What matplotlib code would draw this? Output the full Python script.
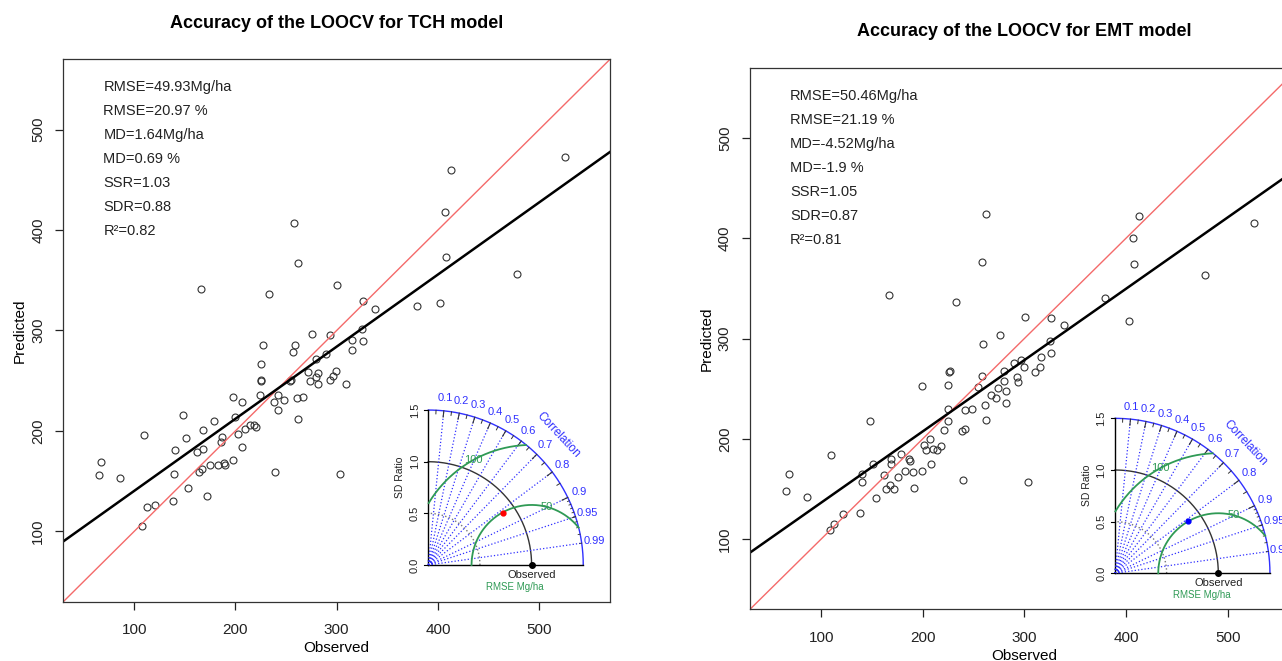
import numpy as np
import matplotlib.pyplot as plt

plt.rcParams['font.family'] = ['Liberation Sans', 'DejaVu Sans']

W, H = 1282, 661

# --- data ---
tch_obs = [65, 67, 86, 110, 108, 113, 121, 138, 139, 140, 148, 151, 153, 162, 164,
           167, 166, 168, 168, 172, 175, 179, 183, 186, 187, 189, 190, 198, 198, 200,
           203, 207, 207, 209, 214, 218, 220, 224, 225, 225, 225, 227, 233, 238, 239,
           242, 242, 248, 254, 255, 257, 259, 258, 262, 261, 262, 267, 272, 274, 276,
           280, 280, 282, 282, 289, 293, 293, 296, 299, 300, 303, 309, 315, 315, 325,
           326, 326, 338, 379, 402, 407, 408, 413, 478, 526]
tch_pred = [156, 169, 153, 196, 105, 124, 126, 130, 157, 181, 216, 193, 143, 179, 159,
            162, 341, 201, 182, 135, 166, 210, 166, 189, 194, 168, 166, 171, 234, 214,
            197, 229, 184, 202, 206, 206, 204, 236, 250, 251, 267, 286, 336, 229, 159,
            221, 236, 231, 250, 251, 279, 286, 407, 367, 233, 212, 234, 259, 250, 297,
            272, 254, 258, 247, 277, 296, 251, 255, 260, 345, 157, 247, 291, 281, 301,
            290, 329, 321, 324, 327, 418, 373, 460, 356, 473]

emt_obs = [65, 68, 86, 110, 109, 113, 122, 138, 140, 140, 148, 151, 154, 162, 164,
           167, 168, 169, 169, 172, 176, 179, 183, 186, 187, 190, 191, 199, 199, 201,
           203, 207, 208, 210, 214, 218, 221, 225, 225, 225, 226, 227, 233, 239, 240,
           242, 242, 248, 254, 258, 258, 259, 261, 262, 262, 267, 272, 274, 276, 280,
           280, 282, 282, 290, 293, 294, 297, 300, 301, 304, 310, 315, 316, 325, 326,
           326, 339, 379, 403, 407, 408, 413, 478, 526]
emt_pred = [148, 165, 142, 184, 109, 115, 125, 126, 157, 165, 218, 175, 141, 164, 150,
            343, 154, 180, 175, 150, 162, 185, 168, 180, 178, 167, 151, 253, 168, 194,
            189, 200, 175, 190, 189, 193, 209, 218, 230, 254, 267, 268, 336, 208, 159,
            210, 229, 230, 252, 263, 376, 295, 234, 219, 424, 244, 241, 251, 303, 268,
            258, 248, 236, 276, 262, 257, 279, 272, 321, 157, 267, 272, 282, 298, 320,
            286, 313, 340, 317, 400, 374, 422, 363, 415]

# fitted line (intercept, slope)
tch_fit = (68.5, 0.718)
emt_fit = (65.2, 0.711)

tch_stats = ['RMSE=49.93Mg/ha', 'RMSE=20.97 %', 'MD=1.64Mg/ha', 'MD=0.69 %',
             'SSR=1.03', 'SDR=0.88', 'R²=0.82']
emt_stats = ['RMSE=50.46Mg/ha', 'RMSE=21.19 %', 'MD=-4.52Mg/ha', 'MD=-1.9 %',
             'SSR=1.05', 'SDR=0.87', 'R²=0.81']

# taylor diagram values
tch_corr, tch_sdr = 0.82, 0.88
emt_corr, emt_sdr = 0.81, 0.87
sd_obs = 86.0
rmse_levels = [50, 100]
corr_labels = [0.1, 0.2, 0.3, 0.4, 0.5, 0.6, 0.7, 0.8, 0.9, 0.95, 0.99]
ticks = [100, 200, 300, 400, 500]
lims = (30, 570)

BLUE = '#3030ff'
GREEN = '#2f9a55'


def fx(px):
    return px / W


def fy(py):
    return 1 - py / H


def panel(fig, left, top, width, height, obs, pred, fit, stats, title):
    ax = fig.add_axes([fx(left), fy(top + height), width / W, height / H])
    ax.plot(obs, pred, 'o', ls='none', mfc='none', mec='#333333', ms=5, mew=0.8)
    xs = np.array(lims, dtype=float)
    ax.plot(xs, xs, color='#f46a6a', lw=1.0)
    ax.plot(xs, fit[0] + fit[1] * xs, color='black', lw=1.8)
    ax.set_xlim(lims)
    ax.set_ylim(lims)
    ax.set_xticks(ticks)
    ax.set_yticks(ticks)
    ax.set_yticklabels([str(t) for t in ticks], rotation=90, va='center')
    ax.tick_params(direction='out', length=5.5, width=0.9, labelsize=11, pad=7.5,
                   colors='#222222')
    ax.tick_params(axis='x', pad=10)
    for s in ax.spines.values():
        s.set_linewidth(0.9)
        s.set_color('#333333')
    ax.set_xlabel('Observed', fontsize=11, labelpad=3)
    ax.set_ylabel('Predicted', fontsize=11, labelpad=3)
    fig.text(fx(left + width / 2), fy(top - 36), title, ha='center', va='center',
             fontsize=13, fontweight='bold')
    for i, s in enumerate(stats):
        fig.text(fx(left + 40), fy(top + 28 + 24 * i), s, ha='left', va='center',
                 fontsize=10.5, color='#222222')
    return ax


def taylor(fig, ox, oy, corr, sdr, col):
    s = 103.3
    x0, x1, y0, y1 = -0.45, 1.85, -0.32, 1.75
    ax = fig.add_axes([fx(ox + x0 * s), fy(oy - y0 * s), (x1 - x0) * s / W,
                       (y1 - y0) * s / H])
    ax.set_xlim(x0, x1)
    ax.set_ylim(y0, y1)
    ax.axis('off')
    th = np.linspace(0, np.pi / 2, 300)
    ax.plot(1.5 * np.cos(th), 1.5 * np.sin(th), color=BLUE, lw=1)
    ax.plot(np.cos(th), np.sin(th), color='#333333', lw=1)
    ax.plot(0.5 * np.cos(th), 0.5 * np.sin(th), color='#777777', lw=1, ls=':')
    ax.plot(0.04 * np.cos(th), 0.04 * np.sin(th), color=BLUE, lw=0.8)
    ax.plot([0, 0], [0, 1.5], color='black', lw=1)
    ax.plot([0, 1.5], [0, 0], color='black', lw=1)
    for c in corr_labels:
        a = np.arccos(c)
        ax.plot([0, 1.5 * np.cos(a)], [0, 1.5 * np.sin(a)], color=BLUE, ls=':', lw=0.9)
        ax.text(1.62 * np.cos(a), 1.62 * np.sin(a), f'{c:g}', color=BLUE,
                fontsize=8, ha='center', va='center')
    # arc ticks
    for c in np.arange(0.1, 0.91, 0.1):
        a = np.arccos(c)
        ax.plot([1.5 * np.cos(a), 1.44 * np.cos(a)], [1.5 * np.sin(a), 1.44 * np.sin(a)],
                color='#333333', lw=0.8)
    for c in np.arange(0.05, 0.96, 0.1):
        a = np.arccos(c)
        ax.plot([1.5 * np.cos(a), 1.465 * np.cos(a)], [1.5 * np.sin(a), 1.465 * np.sin(a)],
                color='#333333', lw=0.7)
    for c in np.arange(0.91, 0.995, 0.01):
        a = np.arccos(c)
        ax.plot([1.5 * np.cos(a), 1.48 * np.cos(a)], [1.5 * np.sin(a), 1.48 * np.sin(a)],
                color='#333333', lw=0.6)
    ax.text(1.26, 1.26, 'Correlation', color=BLUE, fontsize=8.5, rotation=-47,
            ha='center', va='center')
    # rmse arcs
    label_ang = {50: 75, 100: 119}
    t = np.linspace(0, np.pi, 500)
    for g in rmse_levels:
        r = g / sd_obs
        xc = 1 + r * np.cos(t)
        yc = r * np.sin(t)
        keep = (xc ** 2 + yc ** 2 <= 1.5 ** 2) & (xc >= 0)
        ax.plot(np.where(keep, xc, np.nan), yc, color=GREEN, lw=1.3)
        a = np.radians(label_ang[g])
        ax.text(1 + r * np.cos(a), r * np.sin(a), str(g), color=GREEN, fontsize=8,
                ha='center', va='center')
    # sd axis
    for v in [0, 0.5, 1.0, 1.5]:
        ax.plot([-0.04, 0], [v, v], color='black', lw=0.8)
        ax.text(-0.13, v, f'{v:.1f}', rotation=90, fontsize=8, ha='center',
                va='center', color='#222222')
    ax.text(-0.27, 0.85, 'SD Ratio', rotation=90, fontsize=7.5, ha='center',
            va='center', color='#222222')
    ax.plot(1, 0, 'o', color='black', ms=4)
    ax.text(1.0, -0.045, 'Observed', fontsize=8, ha='center', va='top', color='#222222')
    ax.text(0.84, -0.21, 'RMSE Mg/ha', fontsize=7, ha='center', va='center', color=GREEN)
    a = np.arccos(corr)
    ax.plot(sdr * np.cos(a), sdr * np.sin(a), 'o', color=col, ms=3.5)
    return ax


fig = plt.figure(figsize=(W / 100, H / 100), dpi=100)
panel(fig, 63.3, 59.3, 546.7, 542.4, tch_obs, tch_pred, tch_fit, tch_stats,
      'Accuracy of the LOOCV for TCH model')
panel(fig, 750, 67.7, 548.8, 541.6, emt_obs, emt_pred, emt_fit, emt_stats,
      'Accuracy of the LOOCV for EMT model')
taylor(fig, 428.3, 565, tch_corr, tch_sdr, 'red')
taylor(fig, 1115, 573.3, emt_corr, emt_sdr, 'blue')

fig.savefig('out.png', dpi=100)
